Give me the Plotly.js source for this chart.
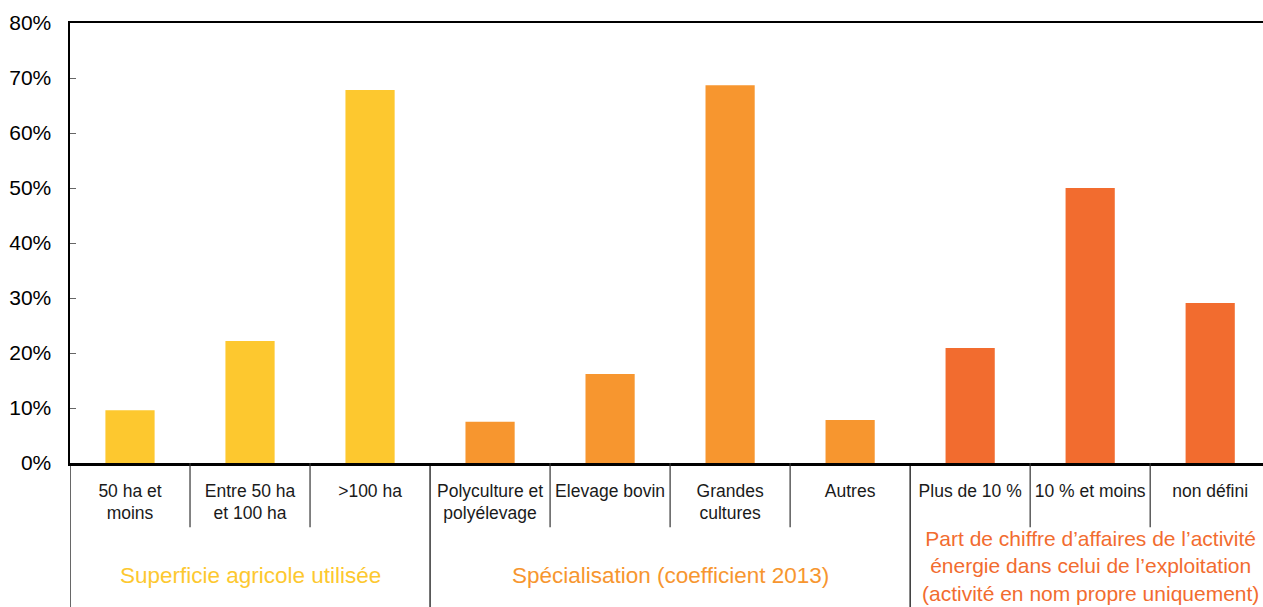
<!DOCTYPE html>
<html>
<head>
<meta charset="utf-8">
<script src="https://cdn.plot.ly/plotly-3.0.1.min.js"></script>
<style>
html,body{margin:0;padding:0;background:#fff;overflow:hidden;}
#chart{width:1263px;height:607px;}
</style>
</head>
<body>
<div id="chart"></div>
<script>
const categories = ["50 ha et<br>moins", "Entre 50 ha<br>et 100 ha", ">100 ha",
  "Polyculture et<br>polyélevage", "Elevage bovin", "Grandes<br>cultures", "Autres",
  "Plus de 10 %", "10 % et moins", "non défini"];
const values = [0.096, 0.222, 0.678, 0.075, 0.162, 0.687, 0.078, 0.209, 0.500, 0.291];
const barColors = ["#FDC82F", "#FDC82F", "#FDC82F", "#F7962F", "#F7962F", "#F7962F", "#F7962F",
  "#F26C2F", "#F26C2F", "#F26C2F"];
const groupLabels = ["Superficie agricole utilisée", "Spécialisation (coefficient 2013)",
  "Part de chiffre d’affaires de l’activité<br>énergie dans celui de l’exploitation<br>(activité en nom propre uniquement)"];
const groupStart = [0, 3, 7];
const groupEnd = [2, 6, 9];
const groupColors = ["#FDC82F", "#F7962F", "#F26C2F"];
const yTickVals = [0, 0.1, 0.2, 0.3, 0.4, 0.5, 0.6, 0.7, 0.8];
const yTickText = ["0%", "10%", "20%", "30%", "40%", "50%", "60%", "70%", "80%"];

const xIdx = categories.map((_, i) => i);
const font = "Liberation Sans, Arial, sans-serif";

const trace = {
  type: "bar",
  x: xIdx,
  y: values,
  marker: {color: barColors},
  hoverinfo: "skip"
};

const shapes = [];
// separators between categories
for (let b = 0; b <= categories.length; b++) {
  const pos = b - 0.5;
  const isGroupEdge = groupStart.includes(b) || b === categories.length;
  shapes.push({
    type: "line", xref: "x", yref: "paper",
    x0: pos, x1: pos, y0: 0, y1: isGroupEdge ? -0.33 : -0.146,
    line: {color: isGroupEdge ? "#000" : "#333", width: 1.2}
  });
}

const annotations = groupLabels.map((t, g) => ({
  xref: "x", yref: "paper",
  x: (groupStart[g] + groupEnd[g]) / 2,
  y: g === 2 ? -0.234 : -0.255,
  yanchor: "middle",
  xanchor: "center",
  text: t,
  showarrow: false,
  align: "center",
  font: {family: font, size: g === 2 ? 21 : 22.5, color: groupColors[g]}
}));

const layout = {
  width: 1263, height: 607,
  margin: {l: 70, r: 0, t: 23, b: 144},
  paper_bgcolor: "#fff", plot_bgcolor: "#fff",
  showlegend: false,
  bargap: 0.59,
  font: {family: font, color: "#000"},
  xaxis: {
    range: [-0.5, 9.44],
    tickmode: "array", tickvals: xIdx, ticktext: categories,
    tickfont: {family: font, size: 17.5, color: "#1a1a1a"},
    ticks: "", showgrid: false, zeroline: false,
    showline: true, linecolor: "#000", linewidth: 2.5, mirror: true,
    ticklabelstandoff: 10,
    fixedrange: true
  },
  yaxis: {
    range: [0, 0.8],
    tickmode: "array", tickvals: yTickVals, ticktext: yTickText,
    tickfont: {family: font, size: 21, color: "#000"},
    ticks: "inside", ticklen: 6, tickcolor: "#666", tickwidth: 1,
    showgrid: false, zeroline: false,
    showline: true, linecolor: "#000", linewidth: 2.5,
    ticklabelstandoff: 12,
    fixedrange: true
  },
  shapes: shapes,
  annotations: annotations
};

Plotly.newPlot("chart", [trace], layout, {displayModeBar: false, staticPlot: true});
</script>
</body>
</html>
